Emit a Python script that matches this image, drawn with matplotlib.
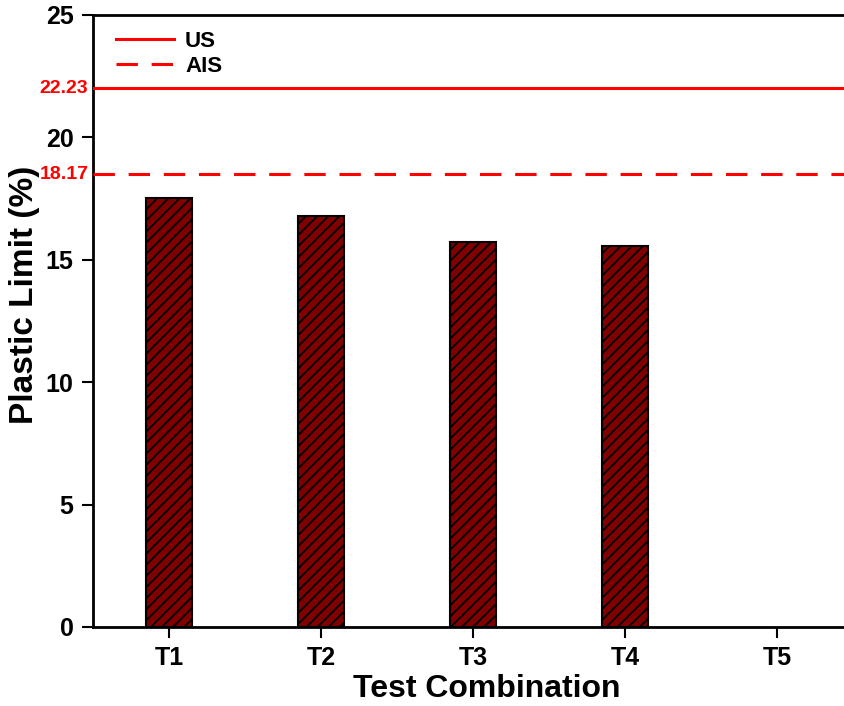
import matplotlib
matplotlib.use('Agg')
import matplotlib.pyplot as plt

combos = ['T1', 'T2', 'T3', 'T4', 'T5']
plastic_limit = [17.52, 16.79, 15.73, 15.56, 0.0]

# standard limits (drawn where the picture shows them, labelled with stated values)
us_level, us_label = 22.0, '22.23'
ais_level, ais_label = 18.5, '18.17'

plt.rcParams['font.family'] = ['Liberation Sans', 'DejaVu Sans']
plt.rcParams['font.weight'] = 'bold'
plt.rcParams['hatch.linewidth'] = 1.3

fig = plt.figure(figsize=(8.44, 7.06), dpi=100)
ax = fig.add_axes([93 / 844, 1 - 627 / 706, 760 / 844, 612 / 706])

x = list(range(len(combos)))
bars = ax.bar(x, plastic_limit, width=0.3, color='#800000', edgecolor='black',
              linewidth=1.5, hatch='///', zorder=2)
for b, v in zip(bars, plastic_limit):
    if v == 0:
        b.set_linewidth(0)

ax.axhline(us_level, color='red', linewidth=2.2, label='US', zorder=3)
ax.axhline(ais_level, color='red', linewidth=2.2, linestyle=(0, (7, 4.5)),
           label='AIS', zorder=3)

ax.set_xlim(-0.5, 4.5)
ax.set_ylim(0, 25)
ax.set_xticks(x)
ax.set_xticklabels(combos, fontsize=18, fontweight='bold')
ax.set_yticks([0, 5, 10, 15, 20, 25])
ax.set_yticklabels(['0', '5', '10', '15', '20', '25'], fontsize=18, fontweight='bold')
ax.tick_params(direction='out', length=8, width=1.5, pad=6)

for lvl, txt in [(us_level, us_label), (ais_level, ais_label)]:
    ax.text(-0.53, lvl, txt, color='red', fontsize=14, fontweight='bold',
            ha='right', va='center', transform=ax.transData)

for s in ['left', 'bottom', 'top', 'right']:
    ax.spines[s].set_linewidth(2)

ax.set_xlabel('Test Combination', fontsize=23, fontweight='bold')
ax.xaxis.set_label_coords(0.518, -0.077)
ax.xaxis.label.set_va('top')
ax.set_ylabel('Plastic Limit (%)', fontsize=24, fontweight='bold')
ax.yaxis.set_label_coords(-0.07, 0.542)

leg = ax.legend(loc='upper left', frameon=False, fontsize=16, handlelength=2.6,
                borderaxespad=0.3, labelspacing=0.2, handletextpad=0.5,
                bbox_to_anchor=(0.01, 1.0))
for t in leg.get_texts():
    t.set_fontweight('bold')

fig.savefig('out.png', dpi=100)
plt.close(fig)
